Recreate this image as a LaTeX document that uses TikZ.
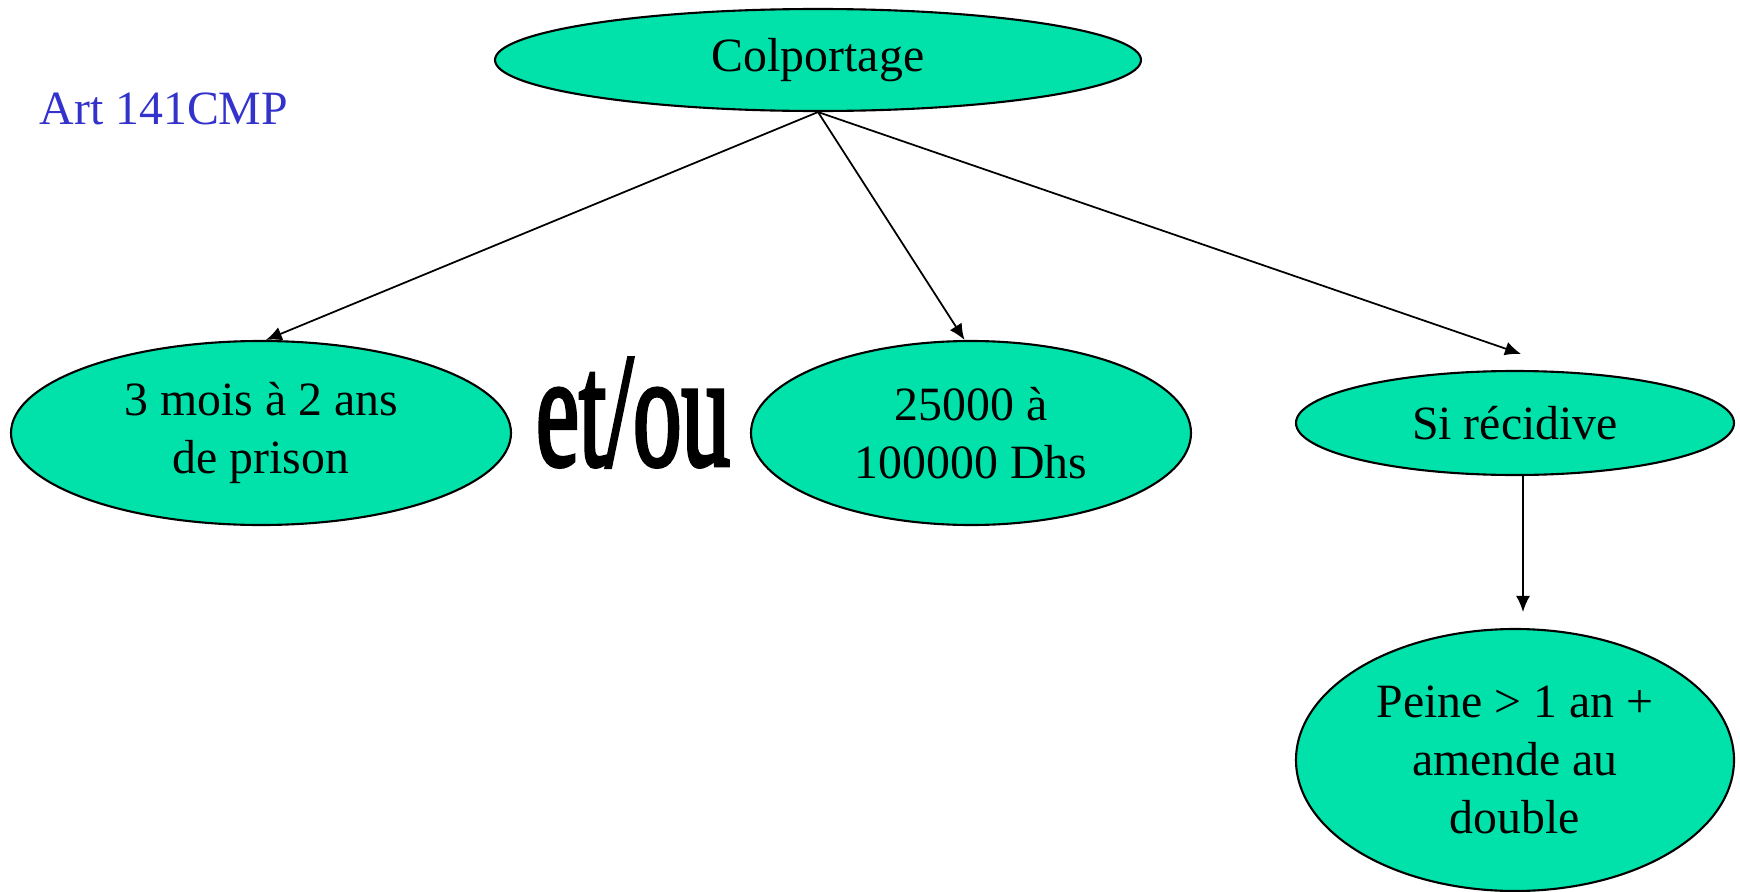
\documentclass[tikz,border=0pt]{standalone}
\usepackage{fontspec}
\setmainfont{Liberation Serif}
\newfontface\etoufont{Liberation Serif}[FakeBold=3]
\usepackage{tikz}
\usetikzlibrary{positioning, arrows.meta, shapes.geometric}

\definecolor{bulle}{RGB}{0,226,170}
\definecolor{artblue}{RGB}{51,51,204}

\tikzset{
	bulle/.style={draw, ellipse, fill=bulle, line width=0.6pt, inner sep=0pt, align=center,
		font=\fontsize{13.6}{16.4}\selectfont},
	fleche/.style={-{Latex[length=1.6mm,width=1.4mm]}, line width=0.5pt}
}

\begin{document}
\begin{tikzpicture}
			
			\useasboundingbox (0,0) rectangle (17.4,-8.92);
			
			%Nodes
			\node (colportage) at (8.18,-0.60) [bulle, minimum width=6.46cm, minimum height=1.02cm]{Colportage};
			
			\node (prison) at (2.61,-4.33) [bulle, minimum width=5.0cm, minimum height=1.84cm]{3 mois à 2 ans\\de prison};
			
			\node (amende) at (9.71,-4.33) [bulle, minimum width=4.4cm, minimum height=1.84cm]{25000 à\\100000 Dhs};
			
			\node (recidive) at (15.15,-4.23) [bulle, minimum width=4.38cm, minimum height=1.04cm]{Si récidive};
			
			\node (peine) at (15.15,-7.60) [bulle, minimum width=4.38cm, minimum height=2.62cm]{Peine > 1 an +\\amende au\\double};
			
			\node (etou) at (6.33,-4.65) [anchor=base, inner sep=0pt]{\scalebox{0.6}[1]{\fontsize{46}{50}\etoufont et/ou}};
			
			\node (article) at (0.39,-1.24) [anchor=base west, inner sep=0pt, text=artblue,
			font=\fontsize{13.6}{16.4}\selectfont]{Art 141CMP};
			
			%Ends
			\coordinate (recidive-top) at ([xshift=0.06cm, yshift=0.16cm]recidive.north);
			\coordinate (recidive-bas) at ([xshift=0.08cm]recidive.south);
			\coordinate (peine-top) at ([xshift=0.08cm, yshift=0.16cm]peine.north);
			
			%Links
			\draw[fleche] (colportage.south) -- (prison.87);
			\draw[fleche] (colportage.south) -- (amende.94);
			\draw[fleche] (colportage.south) -- (recidive-top);
			\draw[fleche] (recidive-bas) -- (peine-top);
			
\end{tikzpicture}
\end{document}
